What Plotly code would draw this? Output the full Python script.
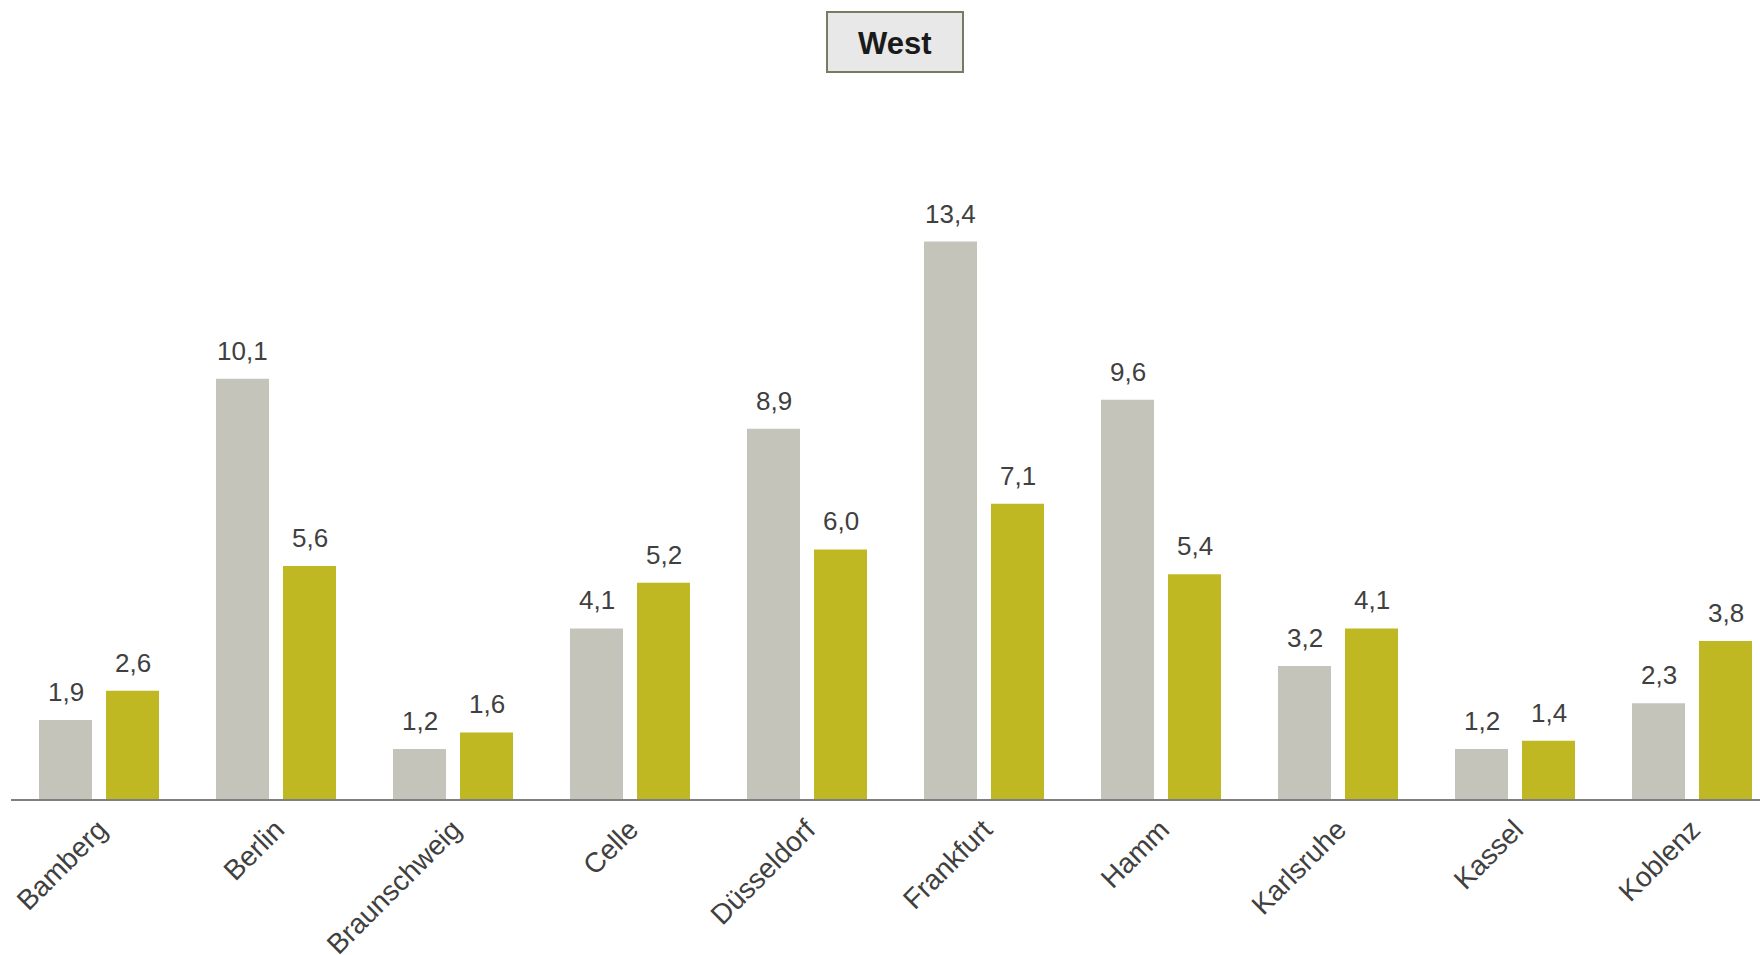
import plotly.graph_objects as go

categories = ["Bamberg", "Berlin", "Braunschweig", "Celle", "Düsseldorf",
              "Frankfurt", "Hamm", "Karlsruhe", "Kassel", "Koblenz"]
series_gray = [1.9, 10.1, 1.2, 4.1, 8.9, 13.4, 9.6, 3.2, 1.2, 2.3]
series_green = [2.6, 5.6, 1.6, 5.2, 6.0, 7.1, 5.4, 4.1, 1.4, 3.8]
title_text = "West"

GRAY = "#C4C4BB"
GREEN = "#BFB823"
TEXT = "#404040"
FONT = "Liberation Sans, Arial, sans-serif"

W, H = 1760, 955
ML, MR, MT, MB = 11, 0, 100, 156
plot_w = W - ML - MR
plot_h = H - MT - MB
px_per_unit = 41.6
band = 177.0

fig = go.Figure()
fig.add_trace(go.Bar(x=categories, y=series_gray, marker=dict(color=GRAY, line=dict(width=0)),
                     name="gray", showlegend=False, hoverinfo="skip"))
fig.add_trace(go.Bar(x=categories, y=series_green, marker=dict(color=GREEN, line=dict(width=0)),
                     name="green", showlegend=False, hoverinfo="skip"))

def fmt(v):
    return f"{v:.1f}".replace(".", ",")

annotations = []
for cat, g, gr in zip(categories, series_gray, series_green):
    for val, shift in ((g, -33.5), (gr, 33.5)):
        annotations.append(dict(x=cat, y=val, xref="x", yref="y", text=fmt(val),
                                showarrow=False, xanchor="center", yanchor="bottom",
                                xshift=shift, yshift=11,
                                font=dict(size=26, color=TEXT, family=FONT)))

# title box
bx0, bx1, by0, by1 = 827, 963, 12, 72
def xp(p):
    return (p - ML) / plot_w
def yp(p):
    return (H - MB - p) / plot_h

annotations.append(dict(x=xp((bx0 + bx1) / 2), y=yp((by0 + by1) / 2), xref="paper", yref="paper",
                        text="<b>" + title_text + "</b>", showarrow=False,
                        xanchor="center", yanchor="middle", yshift=-2,
                        font=dict(size=31, color="#1A1A1A", family=FONT)))

r0 = -88.0 / band
r1 = r0 + plot_w / band

fig.update_layout(
    width=W, height=H,
    margin=dict(l=ML, r=MR, t=MT, b=MB, pad=0, autoexpand=False),
    paper_bgcolor="white", plot_bgcolor="white",
    barmode="group", bargap=0.243, bargroupgap=0.209,
    annotations=annotations,
    shapes=[dict(type="rect", xref="paper", yref="paper",
                 x0=xp(bx0), x1=xp(bx1), y0=yp(by1), y1=yp(by0),
                 fillcolor="#E8E8E8", line=dict(color="#7A7A62", width=2), layer="below")],
    xaxis=dict(range=[r0, r1], showline=True, linecolor="#7F7F7F", linewidth=2,
               ticks="", tickangle=-45, showgrid=False, zeroline=False,
               ticklabelstandoff=1, automargin=False,
               tickfont=dict(size=28, color=TEXT, family=FONT)),
    yaxis=dict(range=[0, plot_h / px_per_unit], visible=False, showgrid=False,
               zeroline=False, automargin=False),
    font=dict(family=FONT),
)

fig.write_html("out.html")
